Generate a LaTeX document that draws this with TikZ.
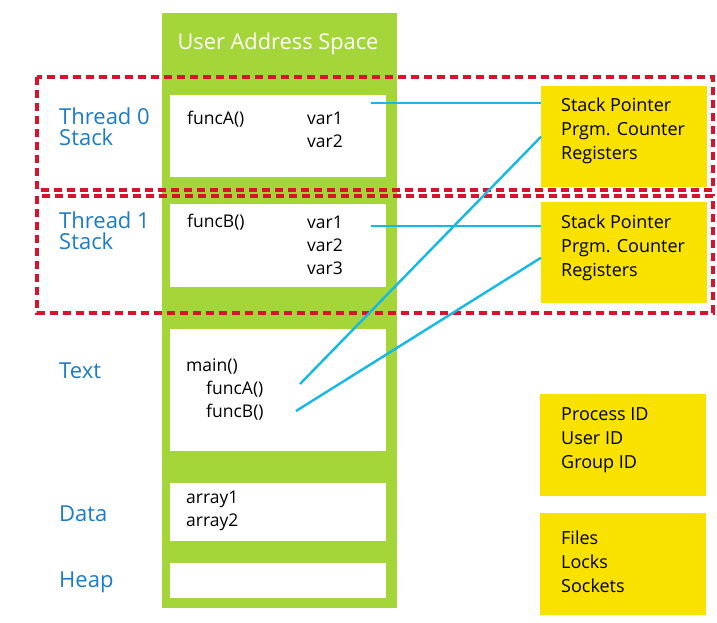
\documentclass[tikz,border=0pt]{standalone}
\usepackage{fontspec}
\setmainfont{Open Sans}
\definecolor{spacegreen}{RGB}{164,214,58}
\definecolor{regyellow}{RGB}{250,226,0}
\definecolor{threadred}{RGB}{218,18,45}
\definecolor{labelblue}{RGB}{28,124,200}
\definecolor{linkcyan}{RGB}{20,185,230}
\begin{document}
\begin{tikzpicture}[x=1pt,y=-1pt]
            \tikzstyle{every node}+=[inner sep=0pt]
            \tikzstyle{segment}=[fill=white, anchor=north west, minimum width=216]
            \tikzstyle{infobox}=[fill=regyellow, anchor=north west, minimum width=166, minimum height=101]
            \tikzstyle{infotext}=[anchor=west, align=left, font=\fontsize{18}{24}\selectfont]
            \tikzstyle{code}=[anchor=west, align=left, font=\fontsize{17.5}{23}\selectfont]
            \tikzstyle{region}=[anchor=west, align=left, text=labelblue, font=\fontsize{22}{21}\selectfont]
            \tikzstyle{threadbox}=[threadred, line width=4, dash pattern=on 8 off 5]
            \tikzstyle{link}=[linkcyan, line width=2.4]
            \useasboundingbox (0,0) rectangle (717,622);
            % address space column
            \fill [spacegreen] (162,13) rectangle (397,608);
            \node [text=white, font=\fontsize{21.8}{24}\selectfont] (title) at (278,44) {User Address Space};
            \node [segment, minimum height=82] (stack0) at (170,95) {};
            \node [segment, minimum height=83] (stack1) at (170,204) {};
            \node [segment, minimum height=122] (text) at (170,329) {};
            \node [segment, minimum height=58] (data) at (170,483) {};
            \node [segment, minimum height=35] (heap) at (170,563) {};
            % segment contents
            \node [code] (funcA0) at (187,119) {funcA()};
            \node [code] (vars0) at (307,130) {var1\\var2};
            \node [code] (funcB1) at (187,222) {funcB()};
            \node [code] (vars1) at (307,245) {var1\\var2\\var3};
            \node [code] (mainfn) at (186,389) {main()\\\hspace{20pt}funcA()\\\hspace{20pt}funcB()};
            \node [code] (arrays) at (186,511) {array1\\array2};
            % region labels
            \node [region] (lab0) at (59,127) {Thread 0\\Stack};
            \node [region] (lab1) at (59,231) {Thread 1\\Stack};
            \node [region] (labtext) at (59,371) {Text};
            \node [region] (labdata) at (59,514) {Data};
            \node [region] (labheap) at (59,582) {Heap};
            % per thread and per process info
            \node [infobox] (regs0) at (541,86) {};
            \node [infotext] at (561,131) {Stack Pointer\\Prgm. Counter\\Registers};
            \node [infobox] (regs1) at (541,202) {};
            \node [infotext] at (561,248) {Stack Pointer\\Prgm. Counter\\Registers};
            \node [infobox, minimum height=102] (procid) at (540,394) {};
            \node [infotext] at (561,440) {Process ID\\User ID\\Group ID};
            \node [infobox, minimum height=102] (procres) at (540,513) {};
            \node [infotext] at (561,562) {Files\\Locks\\Sockets};
            % thread frames
            \draw [threadbox] (37,77) rectangle (713,190);
            \draw [threadbox] (37,196) rectangle (713,313);
            % links
            \coordinate (sp0) at (371,103);
            \coordinate (sp1) at (371,226);
            \coordinate (pcA) at (300,384);
            \coordinate (pcB) at (296,411);
            \draw [link] (sp0) -- (sp0 -| regs0.west);
            \draw [link] (sp1) -- (sp1 -| regs1.west);
            \draw [link] (pcA) -- (regs0.west);
            \draw [link] (pcB) -- ([yshift=-5]regs1.west);
        \end{tikzpicture}
\end{document}
